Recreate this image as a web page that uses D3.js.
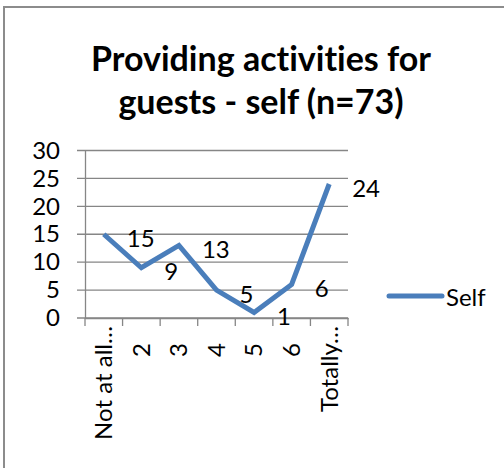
<!DOCTYPE html>
<html>
<head>
<meta charset="utf-8">
<script src="https://cdn.jsdelivr.net/npm/d3@7"></script>
<style>
    body { margin: 0; background: #fff; }
    svg { display: block; font-family: Lato, "Open Sans", sans-serif; font-variant-ligatures: none; }
</style>
</head>
<body>
<div id="chart"></div>
<script>
    // chart data
    const categories = ['Not at all…', '2', '3', '4', '5', '6', 'Totally…'];
    const selfValues = [15, 9, 13, 5, 1, 6, 24];
    const yTicks = [0, 5, 10, 15, 20, 25, 30];
    const seriesName = 'Self';
    const titleLines = ['Providing activities for', 'guests - self (n=73)'];

    let w = 504, h = 468;
    let lineColor = '#4a7ebb', gridColor = '#868686';
    let labelSize = '24px';

    let svg = d3.select('#chart')
        .append('svg')
        .attr('width', w)
        .attr('height', h);

    // outer frame (cut off at right and bottom)
    svg.append('path')
        .attr('d', 'M4,' + (h + 5) + ' V7 H' + (w + 5))
        .attr('fill', 'none')
        .attr('stroke', '#8c8c8c')
        .attr('stroke-width', 2);

    // title
    svg.append('text')
        .attr('text-anchor', 'middle')
        .style('font-weight', 'bold')
        .style('font-size', '34px')
        .selectAll('tspan')
        .data(titleLines)
        .enter()
        .append('tspan')
        .attr('x', 261)
        .attr('y', function (d, i) { return 71 + i * 43; })
        .text(function (d) { return d; });

    let x = d3.scaleBand().domain(categories).range([85, 348]);
    let y = d3.scaleLinear().domain([0, 30]).range([318, 150.5]);

    // gridlines
    svg.append('g')
        .selectAll('line')
        .data(yTicks)
        .enter()
        .append('line')
        .attr('x1', 77).attr('x2', 348)
        .attr('y1', function (d) { return y(d); })
        .attr('y2', function (d) { return y(d); })
        .attr('stroke', gridColor)
        .attr('stroke-width', 1.3);

    // y axis
    let yAxis = svg.append('g')
        .attr('transform', 'translate(85,0)')
        .call(d3.axisLeft(y).tickValues(yTicks).tickSize(0).tickPadding(25));
    yAxis.select('.domain').attr('stroke', gridColor).attr('stroke-width', 1.3);
    yAxis.selectAll('text').style('font-size', labelSize).style('font-family', 'Lato').attr('fill', '#000');

    // x axis
    let xAxis = svg.append('g')
        .attr('transform', 'translate(0,318)')
        .call(d3.axisBottom(x).tickSize(0));
    xAxis.select('.domain').attr('stroke', gridColor).attr('stroke-width', 1.3);
    xAxis.selectAll('text')
        .style('font-size', labelSize)
        .style('font-family', 'Lato')
        .attr('fill', '#000')
        .attr('text-anchor', 'end')
        .attr('dy', '0.35em')
        .attr('transform', function (d) {
            // short labels sit a bit lower, as in the original
            return 'translate(0,' + (d.length > 1 ? 8 : 25) + ') rotate(-90)';
        })
        .attr('x', 0).attr('y', 0);

    // x tick marks at band edges
    let edges = categories.map(function (c) { return x(c); }).concat([x.range()[1]]);
    svg.append('g')
        .selectAll('line')
        .data(edges)
        .enter()
        .append('line')
        .attr('x1', function (d) { return d; })
        .attr('x2', function (d) { return d; })
        .attr('y1', 318).attr('y2', 326)
        .attr('stroke', gridColor)
        .attr('stroke-width', 1.3);

    // series line
    let line = d3.line()
        .x(function (d, i) { return x(categories[i]) + x.bandwidth() / 2; })
        .y(function (d) { return y(d); });

    svg.append('path')
        .datum(selfValues)
        .attr('d', line)
        .attr('fill', 'none')
        .attr('stroke', lineColor)
        .attr('stroke-width', 5)
        .attr('stroke-linejoin', 'miter');

    // data labels
    svg.append('g')
        .selectAll('text')
        .data(selfValues)
        .enter()
        .append('text')
        .attr('x', function (d, i) { return x(categories[i]) + x.bandwidth() / 2 + 23; })
        .attr('y', function (d) { return y(d) + 3; })
        .attr('dominant-baseline', 'central')
        .style('font-size', labelSize)
        .text(function (d) { return d; });

    // legend
    svg.append('line')
        .attr('x1', 389).attr('x2', 442)
        .attr('y1', 296).attr('y2', 296)
        .attr('stroke', lineColor)
        .attr('stroke-width', 5)
        .attr('stroke-linecap', 'round');
    svg.append('text')
        .attr('x', 446).attr('y', 296)
        .attr('dominant-baseline', 'central')
        .style('font-size', labelSize)
        .text(seriesName);
</script>
</body>
</html>
